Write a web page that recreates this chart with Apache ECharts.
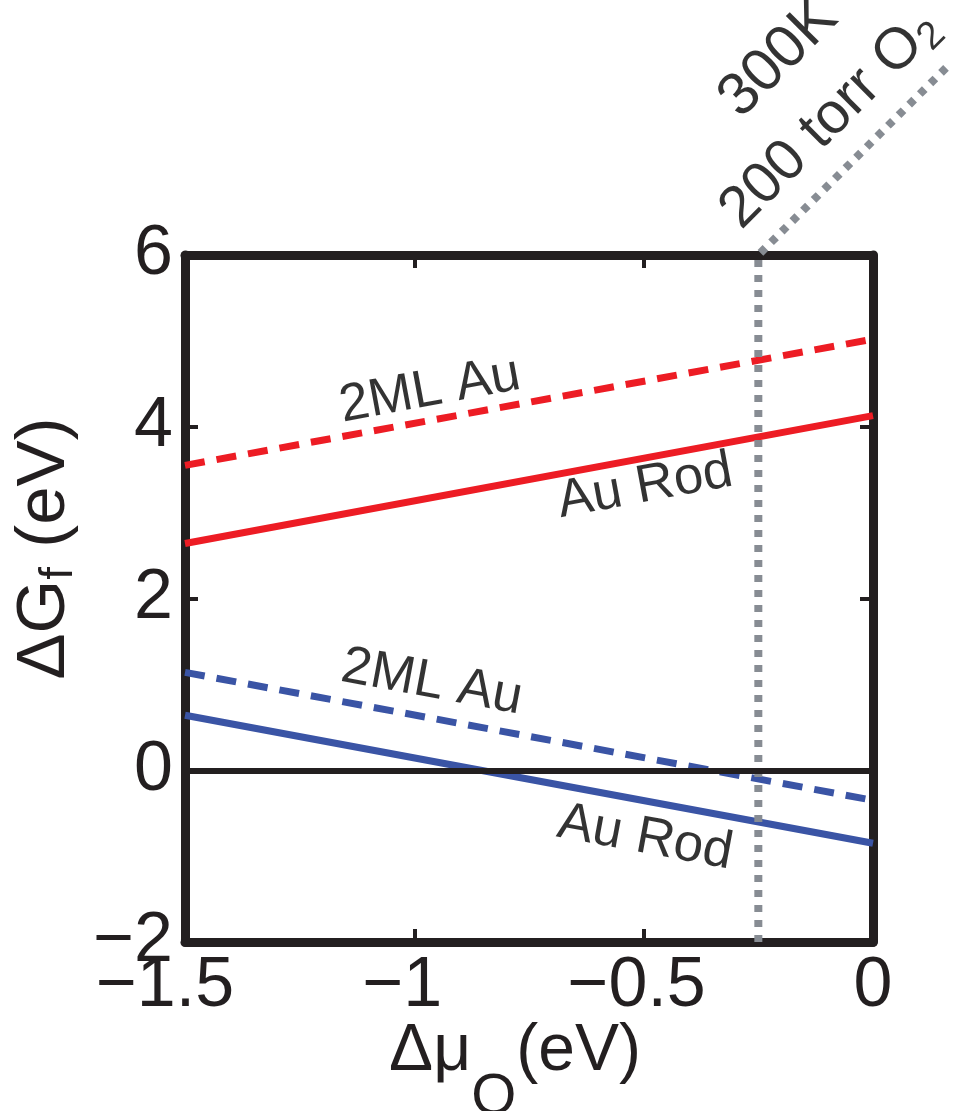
<!DOCTYPE html>
<html>
<head>
<meta charset="utf-8">
<script src="https://cdn.jsdelivr.net/npm/echarts@6/dist/echarts.min.js"></script>
<style>
html,body{margin:0;padding:0;background:#fff;}
#chart{width:953px;height:1111px;}
</style>
</head>
<body>
<div id="chart"></div>
<script>
// ---- data ----
const muX = [-1.5, 0];                 // Δμ_O endpoints (eV)
const red2ML = [3.55, 5.02];           // 2ML Au (red, dashed)
const redRod = [2.64, 4.13];           // Au Rod (red, solid)
const blue2ML = [1.14, -0.35];         // 2ML Au (blue, dashed)
const blueRod = [0.64, -0.85];         // Au Rod (blue, solid)
const condX = [-0.25, -0.25, 0.165];   // 300 K, 200 torr O2 marker
const condY = [-2, 6, 8.21];
const xTicks = [-1.5, -1, -0.5, 0];
const yTicks = [-2, 0, 2, 4, 6];
// annotation anchors [x, y, text, rotation]
const notes = [
  [-0.966, 4.42, '2ML Au', 10.5],
  [-0.497, 3.30, 'Au Rod', 10.5],
  [-0.962, 1.02, '2ML Au', -10.5],
  [-0.497, -0.79, 'Au Rod', -10.5]
];
const condNotes = [
  [-0.206, 8.29, '300K'],
  [-0.094, 7.58, '{m|200 torr O}{s|2}']
];

const FONT = '"Liberation Sans", Arial, Helvetica, sans-serif';
const INK = '#231f20';
const RED = '#ed1c24';
const BLUE = '#3a54a5';
const GRAY = '#878c93';

function pairs(xs, ys){ return xs.map((x,i)=>[x, ys[i]]); }
// x labels: long minus; the minus hangs to the left as in the original
const xShift = {'-1.5':40, '-1':24, '-0.5':14, '0':0};
const xFmt = v => {
  const k = String(v);
  return '{p' + (xShift[k] !== undefined ? xShift[k] : 0) + '|' + k.replace('-', '\u2212') + '}';
};
const xRich = {};
Object.values(xShift).forEach(p => {
  xRich['p' + p] = {fontFamily:FONT, fontSize:70, color:INK, padding:[0, p, 0, 0]};
});
const yFmt = v => String(v).replace('-', '\u2212');

const chart = echarts.init(document.getElementById('chart'), null, {renderer:'canvas'});

const axisLine = {show:true, onZero:false, lineStyle:{color:INK, width:9}};
const axisTick = {show:true, inside:true, length:13, lineStyle:{color:INK, width:4}};
const noteText = {fontFamily:FONT, color:'#000', textBorderWidth:0, textBorderColor:'transparent',
  textShadowBlur:0, align:'center', verticalAlign:'middle'};

const series = [
  {type:'line', data:pairs(muX, red2ML), symbol:'none', lineStyle:{color:RED, width:7, type:[20,12]}, z:3},
  {type:'line', data:pairs(muX, redRod), symbol:'none', lineStyle:{color:RED, width:7}, z:3},
  {type:'line', data:pairs(muX, blue2ML), symbol:'none', lineStyle:{color:BLUE, width:7, type:[20,12]}, z:3},
  {type:'line', data:pairs(muX, blueRod), symbol:'none', lineStyle:{color:BLUE, width:7}, z:3,
    markLine:{silent:true, symbol:'none', label:{show:false},
      lineStyle:{color:INK, width:6, type:'solid'}, data:[{yAxis:0}]}},
  {type:'custom', data:pairs(condX, condY), clip:false, silent:true, z:4,
    renderItem:function(params, api){
      if (params.dataIndex !== 0) return null;
      const pts = pairs(condX, condY).map(p => api.coord(p));
      return {type:'polyline', shape:{points:pts},
        style:{stroke:GRAY, lineWidth:8, lineDash:[7,8], fill:null, lineCap:'butt'}};
    }}
];
notes.forEach(n => {
  series.push({type:'scatter', data:[[n[0], n[1]]], symbolSize:0, clip:false, silent:true,
    itemStyle:{color:'transparent'},
    label:Object.assign({show:true, position:'inside', formatter:n[2], rotate:n[3], fontSize:53}, noteText)});
});
condNotes.forEach((n, i) => {
  const fs = i === 0 ? 60 : 58;
  series.push({type:'scatter', data:[[n[0], n[1]]], symbolSize:0, clip:false, silent:true,
    itemStyle:{color:'transparent'},
    label:Object.assign({show:true, position:'inside', formatter:n[2], rotate:45, fontSize:fs,
      rich:{
        m:{fontFamily:FONT, fontSize:fs, color:'#000', lineHeight:66},
        s:{fontFamily:FONT, fontSize:39, color:'#000', lineHeight:30, verticalAlign:'bottom'}
      }}, noteText)});
});

chart.setOption({
  animation:false,
  backgroundColor:'#fff',
  grid:{left:185, right:80, top:255, bottom:169, containLabel:false, outerBoundsMode:'none'},
  xAxis:[
    {type:'value', min:-1.5, max:0, interval:0.5, position:'bottom',
      axisLine, axisTick, splitLine:{show:false},
      axisLabel:{formatter:xFmt, rich:xRich, fontFamily:FONT, fontSize:70, color:INK, margin:10, showMinLabel:true, showMaxLabel:true},
      name:'{m|\u0394\u03bc}{s|O}{m|(eV)}', nameLocation:'middle', nameGap:77, nameMoveOverlap:false,
      nameTextStyle:{fontFamily:FONT, color:INK, padding:[0, 28, 0, 0],
        rich:{
          m:{fontFamily:FONT, fontSize:66, color:INK, lineHeight:66, verticalAlign:'top'},
          s:{fontFamily:FONT, fontSize:58, color:INK, lineHeight:58, verticalAlign:'top', padding:[50,0,0,0]}
        }}},
    {type:'value', min:-1.5, max:0, interval:0.5, position:'top',
      axisLine, axisTick, axisLabel:{show:false}, splitLine:{show:false}}
  ],
  yAxis:[
    {type:'value', min:-2, max:6, interval:2, position:'left',
      axisLine, axisTick, splitLine:{show:false},
      axisLabel:{formatter:yFmt, fontFamily:FONT, fontSize:70, color:INK, margin:12},
      name:'{m|\u0394G}{s|f}{m| (eV)}', nameLocation:'middle', nameGap:102, nameRotate:90,
      nameTextStyle:{fontFamily:FONT, color:INK, padding:[0, 0, 0, 100],
        rich:{
          m:{fontFamily:FONT, fontSize:69, color:INK, lineHeight:74},
          s:{fontFamily:FONT, fontSize:46, color:INK, lineHeight:46, verticalAlign:'bottom'}
        }}},
    {type:'value', min:-2, max:6, interval:2, position:'right',
      axisLine, axisTick, axisLabel:{show:false}, splitLine:{show:false}}
  ],
  series
});
</script>
</body>
</html>
